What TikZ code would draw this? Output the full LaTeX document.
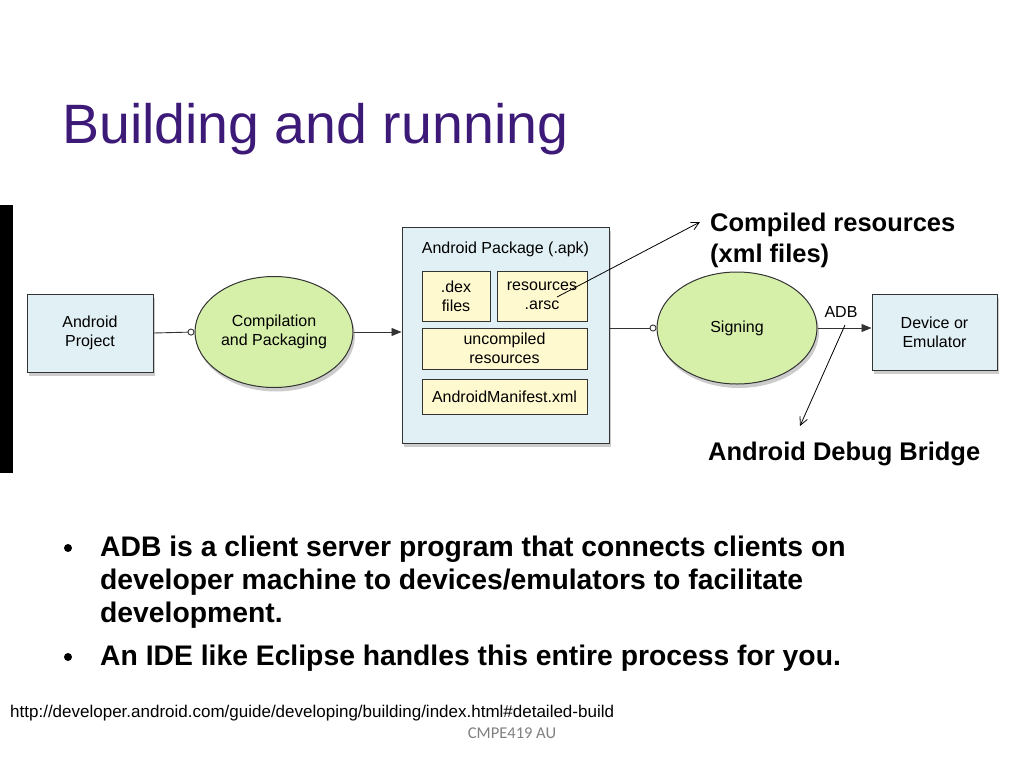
\documentclass[tikz,border=0pt]{standalone}
\usepackage{fontspec}
\setmainfont{Liberation Sans}
\newfontfamily\carl{Carlito}
\usetikzlibrary{arrows.meta,shapes.geometric,shadows}
\definecolor{titlecol}{HTML}{3D1A78}
\definecolor{boxblue}{HTML}{E1F0F5}
\definecolor{ellgreen}{HTML}{D6F0AA}
\definecolor{paleyel}{HTML}{FFF9CF}
\definecolor{edgecol}{HTML}{333333}
\tikzset{
  shd/.style={drop shadow={opacity=0.4,shadow xshift=2pt,shadow yshift=-4pt}},
  dfont/.style={font=\fontsize{16}{19}\selectfont},
  bluebox/.style={draw=edgecol,line width=1pt,fill=boxblue,shd,dfont,align=center,inner sep=0pt},
  greenell/.style={ellipse,draw=edgecol,line width=1pt,fill=ellgreen,shd,dfont,align=center,inner sep=0pt},
  yelbox/.style={draw=edgecol,line width=0.8pt,fill=paleyel,dfont,align=center,inner sep=0pt},
  conn/.style={draw=edgecol,line width=0.9pt},
  note/.style={draw=black,line width=0.8pt,-{Straight Barb[length=8pt,width=8pt]}},
  bold24/.style={font=\bfseries\fontsize{25.5}{30}\selectfont,inner sep=0pt,anchor=base west},
  bullettxt/.style={font=\bfseries\fontsize{28.3}{33}\selectfont,inner sep=0pt,anchor=base west}
}
\begin{document}
\begin{tikzpicture}[x=1pt,y=-1pt]
\useasboundingbox (0,0) rectangle (1024,768);
% title
\node[anchor=base west,inner sep=0pt,text=titlecol,font=\fontsize{55.5}{60}\selectfont] (title) at (62,143) {Building and running};
% left bar
\fill[black] (0,205) rectangle (13,473);
% nodes
\node[bluebox,minimum width=126pt,minimum height=78pt] (proj) at (90,333) {Android\\Project};
\node[greenell,minimum width=158pt,minimum height=111pt] (comp) at (274,332) {Compilation\\and Packaging};
\node[bluebox,minimum width=207pt,minimum height=216pt] (apk) at (505.5,335) {};
\node[dfont,inner sep=0pt,anchor=base] (apktitle) at (505.5,253) {Android Package (.apk)};
\node[yelbox,minimum width=68pt,minimum height=50pt] (dex) at (456,296) {.dex\\files};
\node[yelbox,minimum width=90pt,minimum height=50pt] (res) at (542,296) {resources\\.arsc};
\node[yelbox,minimum width=165pt,minimum height=41pt] (unc) at (504.5,348.5) {uncompiled\\resources};
\node[yelbox,minimum width=165pt,minimum height=35pt] (man) at (504.5,396.5) {AndroidManifest.xml};
\node[greenell,minimum width=160pt,minimum height=112pt] (sign) at (737,328) {Signing};
\node[bluebox,minimum width=125pt,minimum height=76pt] (dev) at (934.5,332) {Device or\\Emulator};
\node[dfont,inner sep=0pt] (adb) at (841,312) {ADB};
% connectors
\draw[conn,-{Circle[open,length=7pt,fill=white]}] (proj.east) -- (comp.west);
\draw[conn,-{Triangle[length=10pt,width=8pt]}] (comp.east) -- (apk.west |- comp.east);
\draw[conn,-{Circle[open,length=7pt,fill=white]}] (apk.east |- sign.west) -- (sign.west);
\draw[conn,-{Triangle[length=10pt,width=8pt]}] (sign.east) -- (dev.west |- sign.east);
% annotations
\node[bold24] (compiled1) at (710,231) {Compiled resources};
\node[bold24] (compiled2) at (710,262) {(xml files)};
\node[bold24] (adbnote) at (708,460) {Android Debug Bridge};
\coordinate (resin) at (557,297);
\coordinate (cmpend) at (700,222);
\coordinate (adbstart) at (845,325);
\coordinate (adbend) at (800,426);
\draw[note] (resin) -- (cmpend);
\draw[note] (adbstart) -- (adbend);
% bullets
\node[circle,fill=black,inner sep=0pt,minimum size=8pt] (b1) at (68,548) {};
\node[circle,fill=black,inner sep=0pt,minimum size=8pt] (b2) at (68,657) {};
\node[bullettxt] (t1a) at (100,556) {ADB is a client server program that connects clients on};
\node[bullettxt] (t1b) at (100,589) {developer machine to devices/emulators to facilitate};
\node[bullettxt] (t1c) at (100,622) {development.};
\node[bullettxt] (t2) at (100,665) {An IDE like Eclipse handles this entire process for you.};
% footer
\node[anchor=base west,inner sep=0pt,font=\fontsize{17}{19}\selectfont] (url) at (10,717) {http://developer.android.com/guide/developing/building/index.html\#detailed-build};
\node[anchor=base,inner sep=0pt,text=black!50,font=\carl\fontsize{16.5}{18}\selectfont] (foot) at (512,738) {CMPE419 AU};
\end{tikzpicture}
\end{document}
